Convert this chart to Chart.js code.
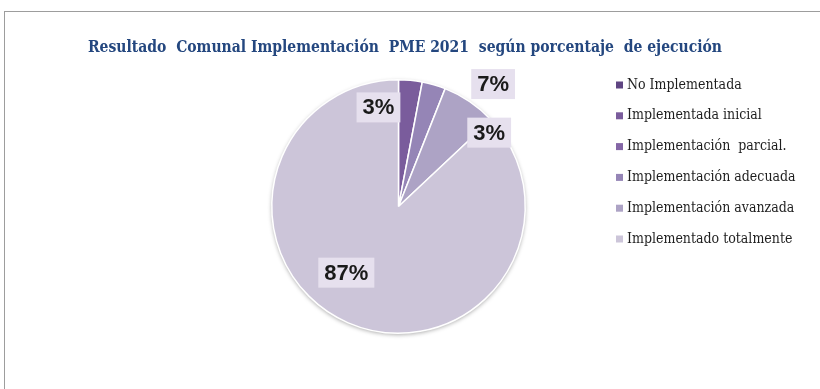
<!DOCTYPE html>
<html>
<head>
<meta charset="utf-8">
<script src="https://cdn.jsdelivr.net/npm/chart.js@4.4.1/dist/chart.umd.min.js"></script>
<style>
  html, body { margin: 0; padding: 0; background: #fff; overflow: hidden; }
  #frame { position: absolute; left: 4px; top: 11px; width: 900px; height: 500px; border: 1px solid #9d9d9d; }
  #chart { position: absolute; left: 0; top: 0; }
</style>
</head>
<body>
<div id="frame"></div>
<canvas id="chart" width="820" height="389"></canvas>
<script>
  const chartTitle = 'Resultado  Comunal Implementación  PME 2021  según porcentaje  de ejecución';
  const categories = [
    'No Implementada',
    'Implementada inicial',
    'Implementación  parcial.',
    'Implementación adecuada',
    'Implementación avanzada',
    'Implementado totalmente'
  ];
  const percentages = [0, 3, 0, 3, 7, 87];
  const sliceColors = ['#5f4582', '#7a5c9c', '#8466a6', '#9585b6', '#ada3c5', '#ccc5d9'];

  // where each value box sits relative to its slice centre
  const labelNudges = [[0, 0], [-26, -36], [0, 0], [73, -13], [59, -70], [-27, 8]];

  const decor = {
    id: 'decor',
    beforeDatasetsDraw(chart) {
      const ctx = chart.ctx;
      const arc = chart.getDatasetMeta(0).data[0];
      const { x, y, outerRadius } = arc.getProps(['x', 'y', 'outerRadius'], true);
      ctx.save();
      ctx.shadowColor = 'rgba(0,0,0,0.35)';
      ctx.shadowBlur = 4;
      ctx.shadowOffsetY = 1.5;
      ctx.beginPath();
      ctx.arc(x, y, outerRadius, 0, Math.PI * 2);
      ctx.fillStyle = sliceColors[5];
      ctx.fill();
      ctx.restore();
    },
    afterDatasetsDraw(chart) {
      const ctx = chart.ctx;
      const meta = chart.getDatasetMeta(0);
      ctx.save();
      ctx.font = 'bold 22px "Liberation Sans"';
      ctx.textAlign = 'center';
      ctx.textBaseline = 'middle';
      meta.data.forEach((arc, i) => {
        if (!percentages[i]) return;
        const p = arc.tooltipPosition(true);
        const cx = p.x + labelNudges[i][0];
        const cy = p.y + labelNudges[i][1];
        const text = percentages[i] + '%';
        const w = ctx.measureText(text).width + 12;
        const h = 30;
        ctx.fillStyle = '#e6e0ee';
        ctx.fillRect(cx - w / 2, cy - h / 2, w, h);
        ctx.fillStyle = '#1a1a1a';
        ctx.fillText(text, cx, cy + 1);
      });
      ctx.restore();
    },
    afterDraw(chart) {
      const ctx = chart.ctx;
      ctx.save();
      ctx.font = 'bold 17px "DejaVu Serif Condensed"';
      ctx.fillStyle = '#24477f';
      ctx.textAlign = 'center';
      ctx.textBaseline = 'middle';
      ctx.fillText(chartTitle, 405, 48, 634);

      ctx.font = '14px "DejaVu Serif Condensed"';
      ctx.textAlign = 'left';
      categories.forEach((name, i) => {
        const y = 85 + i * 30.8;
        ctx.fillStyle = sliceColors[i];
        ctx.fillRect(616, y - 3.5, 7, 7);
        ctx.fillStyle = '#1e1e1e';
        ctx.fillText(name, 627, y, 170);
      });
      ctx.restore();
    }
  };

  new Chart(document.getElementById('chart'), {
    type: 'pie',
    data: {
      labels: categories,
      datasets: [{
        data: percentages,
        backgroundColor: sliceColors,
        borderColor: '#ffffff',
        borderWidth: 1.5
      }]
    },
    options: {
      responsive: false,
      animation: false,
      layout: { padding: { left: 271, top: 79, right: 294, bottom: 55 } },
      plugins: {
        legend: { display: false },
        tooltip: { enabled: false }
      }
    },
    plugins: [decor]
  });
</script>
</body>
</html>
